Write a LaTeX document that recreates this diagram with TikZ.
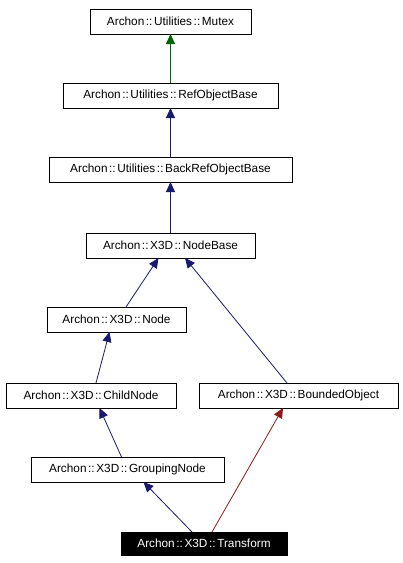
\documentclass[tikz,border=0pt]{standalone}
\usepackage{fontspec}
\setmainfont{Liberation Sans}
\usetikzlibrary{arrows.meta,positioning}
\definecolor{edgeblue}{RGB}{25,25,112}
\definecolor{edgegreen}{RGB}{0,100,0}
\definecolor{edgered}{RGB}{139,26,26}
\newcommand{\dcol}{\kern1.6pt::\kern1.6pt}

\begin{document}
\begin{tikzpicture}[->,>={Triangle[length=10pt,width=9pt]},line width=0.8pt,
        class/.style={rectangle,draw=black,line width=0.9pt,minimum height=25pt,inner sep=0pt,
          outer sep=0pt,font=\fontsize{11.8}{14}\selectfont},
        this class/.style={class,fill=black,text=white,minimum height=23pt}]
    \useasboundingbox (0pt,0pt) rectangle (403pt,-563pt);

    \node[class, minimum width=161pt] (Mutex) at (170.5pt,-21.5pt) {Archon\dcol Utilities\dcol Mutex};
    \node[class, minimum width=215pt] (RefObjectBase) [below=49pt of Mutex] {Archon\dcol Utilities\dcol RefObjectBase};
    \node[class, minimum width=243pt] (BackRefObjectBase) [below=49pt of RefObjectBase] {Archon\dcol Utilities\dcol BackRefObjectBase};
    \node[class, minimum width=169pt] (NodeBase) [below=51pt of BackRefObjectBase] {Archon\dcol X3D\dcol NodeBase};
    \node[class, minimum width=139pt] (Node) [below=49pt of NodeBase, xshift=-54pt] {Archon\dcol X3D\dcol Node};
    \node[class, minimum width=170pt] (ChildNode) [below=51pt of Node, xshift=-25.5pt] {Archon\dcol X3D\dcol ChildNode};
    \node[class, minimum width=199pt] (BoundedObject) [right=23pt of ChildNode] {Archon\dcol X3D\dcol BoundedObject};
    \node[class, minimum width=193pt] (GroupingNode) [below=49pt of ChildNode, xshift=36.5pt] {Archon\dcol X3D\dcol GroupingNode};
    \node[this class, minimum width=166pt] (Transform) [below=50pt of GroupingNode, xshift=76.5pt] {Archon\dcol X3D\dcol Transform};

    \path[edgeblue]
    (RefObjectBase) edge[edgegreen] (Mutex)
    (BackRefObjectBase) edge (RefObjectBase)
    (NodeBase) edge (BackRefObjectBase)
    ([xshift=9.5pt]Node.north) edge ([xshift=-12pt]NodeBase.south)
    ([xshift=-11.5pt]BoundedObject.north) edge ([xshift=14.5pt]NodeBase.south)
    ([xshift=5pt]ChildNode.north) edge ([xshift=-7pt]Node.south)
    ([xshift=-6pt]GroupingNode.north) edge ([xshift=8.5pt]ChildNode.south)
    ([xshift=-12pt]Transform.north) edge ([xshift=16pt]GroupingNode.south)
    ([xshift=8pt]Transform.north) edge[edgered] ([xshift=-15.5pt]BoundedObject.south);
\end{tikzpicture}
\end{document}
